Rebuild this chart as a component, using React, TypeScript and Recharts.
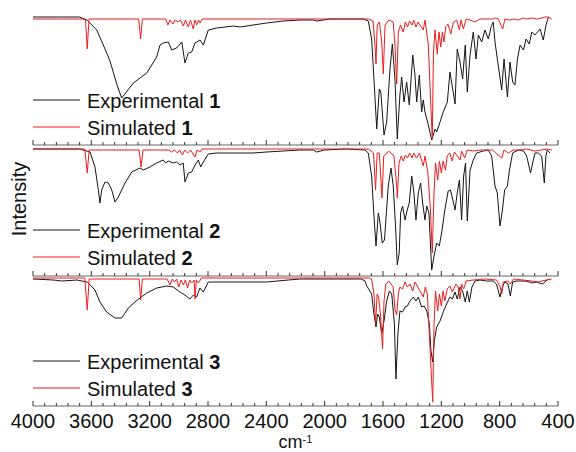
import { Legend, Line, LineChart, XAxis, YAxis } from "recharts";

// wavenumber (cm-1), intensity (a.u.) pairs
const EXP_1: [number, number][] = [
  [4000, 128], [3800, 128], [3680, 128], [3630, 125], [3563, 115], [3518, 100], [3472, 84], [3424, 60], [3392, 47],
  [3312, 62], [3220, 72], [3152, 88], [3129, 100], [3107, 102], [3072, 103], [3049, 95], [3015, 97], [2980, 103],
  [2958, 82], [2935, 92], [2912, 93], [2889, 102], [2855, 105], [2832, 100], [2798, 115], [2740, 117], [2626, 119],
  [2580, 118], [2491, 120], [2398, 122], [2285, 124], [2169, 125], [2078, 125], [2055, 124], [1963, 126], [1735, 126],
  [1701, 124], [1678, 106], [1662, 66], [1643, 16], [1625, 56], [1615, 53], [1593, 10], [1575, 23], [1552, 76],
  [1536, 101], [1518, 66], [1502, 6], [1484, 50], [1472, 68], [1456, 43], [1438, 63], [1420, 40], [1396, 90],
  [1381, 70], [1369, 43], [1351, 70], [1335, 33], [1324, 45], [1312, 33], [1289, 20], [1266, 5], [1243, 16],
  [1232, 13], [1209, 23], [1187, 33], [1159, 43], [1141, 73], [1122, 56], [1106, 41], [1091, 96], [1072, 83],
  [1054, 66], [1036, 100], [1022, 53], [1003, 90], [981, 113], [962, 86], [946, 110], [923, 103], [901, 115],
  [878, 106], [859, 118], [844, 123], [832, 103], [816, 86], [786, 55], [770, 86], [747, 48], [729, 83], [711, 63],
  [695, 60], [678, 86], [660, 100], [637, 95], [619, 106], [597, 101], [580, 113], [558, 110], [523, 116],
  [501, 105], [482, 120], [466, 128],
];

const SIM_1: [number, number][] = [
  [4000, 126], [3660, 126], [3640, 125], [3628, 96], [3616, 126], [3275, 126], [3262, 106], [3250, 126], [3090, 126],
  [3075, 120], [3061, 125], [3040, 121], [3025, 125], [3005, 123], [2990, 125], [2969, 119], [2955, 125], [2935, 118],
  [2920, 125], [2901, 116], [2890, 125], [2878, 120], [2865, 125], [2855, 122], [2840, 126], [1700, 126], [1668, 124],
  [1655, 100], [1648, 81], [1640, 120], [1625, 123], [1609, 103], [1598, 71], [1586, 120], [1560, 125], [1530, 123],
  [1518, 100], [1506, 61], [1495, 113], [1480, 120], [1461, 113], [1447, 123], [1432, 118], [1418, 124], [1400, 120],
  [1390, 125], [1374, 118], [1360, 123], [1324, 115], [1312, 125], [1289, 100], [1275, 50], [1262, 6], [1254, 93],
  [1243, 115], [1228, 91], [1216, 113], [1204, 98], [1193, 113], [1182, 103], [1170, 118], [1155, 121], [1135, 111],
  [1117, 123], [1094, 125], [1076, 115], [1065, 125], [1049, 116], [1030, 126], [1003, 125], [969, 123], [935, 126],
  [850, 126], [830, 127], [810, 126], [779, 116], [764, 126], [730, 125], [707, 126], [672, 125], [638, 127],
  [615, 126], [580, 127], [546, 126], [512, 127], [490, 128], [466, 128], [443, 126],
];

const EXP_2: [number, number][] = [
  [4000, 127], [3680, 127], [3609, 124], [3575, 109], [3552, 86], [3541, 73], [3529, 86], [3506, 94], [3483, 93],
  [3460, 86], [3438, 74], [3415, 79], [3369, 93], [3323, 104], [3266, 108], [3243, 106], [3198, 109], [3152, 113],
  [3107, 116], [3090, 113], [3072, 115], [3038, 113], [3015, 114], [2992, 111], [2970, 113], [2958, 94], [2945, 99],
  [2935, 103], [2912, 104], [2889, 111], [2866, 116], [2850, 109], [2832, 114], [2798, 122], [2740, 123], [2626, 123],
  [2491, 123], [2398, 124], [2285, 125], [2169, 126], [2078, 126], [2055, 124], [2000, 126], [1850, 127], [1723, 126],
  [1701, 123], [1678, 100], [1662, 60], [1648, 30], [1632, 63], [1620, 53], [1605, 33], [1590, 36], [1564, 90],
  [1545, 108], [1530, 90], [1514, 50], [1502, 11], [1489, 23], [1479, 63], [1466, 70], [1449, 56], [1434, 66],
  [1420, 73], [1403, 100], [1388, 83], [1374, 56], [1358, 83], [1342, 93], [1328, 73], [1312, 56], [1300, 70],
  [1285, 63], [1266, 6], [1250, 20], [1232, 33], [1214, 30], [1198, 43], [1176, 66], [1153, 85], [1138, 86],
  [1124, 78], [1106, 66], [1091, 83], [1076, 96], [1061, 56], [1047, 100], [1034, 113], [1022, 55], [1003, 106],
  [981, 116], [958, 123], [912, 125], [878, 126], [855, 120], [832, 90], [816, 83], [798, 50], [781, 66], [766, 86],
  [747, 90], [733, 106], [711, 123], [672, 126], [637, 125], [615, 120], [588, 103], [574, 113], [558, 123],
  [535, 123], [512, 120], [494, 93], [483, 120], [474, 126], [455, 123],
];

const SIM_2: [number, number][] = [
  [4000, 127], [3645, 127], [3628, 103], [3615, 126], [3272, 126], [3259, 109], [3246, 126], [3070, 126], [3050, 124],
  [3030, 126], [3010, 123], [2995, 126], [2975, 121], [2960, 126], [2940, 123], [2920, 126], [2889, 119], [2875, 126],
  [2855, 124], [2840, 127], [1700, 127], [1665, 123], [1651, 86], [1640, 123], [1625, 123], [1607, 78], [1595, 120],
  [1560, 125], [1525, 120], [1506, 90], [1502, 78], [1490, 113], [1475, 120], [1461, 115], [1447, 121], [1432, 118],
  [1418, 123], [1400, 118], [1390, 123], [1370, 118], [1350, 123], [1324, 110], [1312, 120], [1292, 103], [1275, 66],
  [1262, 23], [1250, 83], [1240, 113], [1225, 96], [1213, 115], [1200, 103], [1188, 115], [1172, 106], [1160, 120],
  [1142, 123], [1126, 115], [1110, 124], [1072, 116], [1061, 125], [1040, 118], [1023, 126], [980, 125], [935, 126],
  [850, 126], [786, 118], [770, 126], [740, 123], [707, 126], [660, 126], [615, 127], [560, 125], [512, 126],
  [475, 127], [443, 126],
];

const EXP_3: [number, number][] = [
  [4000, 127], [3860, 126], [3800, 125], [3700, 126], [3628, 124], [3575, 116], [3541, 104], [3495, 94], [3438, 88],
  [3392, 88], [3346, 98], [3301, 104], [3266, 108], [3220, 113], [3152, 118], [3083, 120], [3038, 119], [2992, 114],
  [2958, 111], [2924, 107], [2900, 111], [2878, 109], [2855, 118], [2832, 114], [2798, 124], [2600, 124], [2398, 124],
  [2250, 126], [2169, 127], [1750, 127], [1723, 125], [1711, 120], [1678, 112], [1662, 92], [1648, 79], [1637, 92],
  [1625, 89], [1609, 72], [1593, 85], [1575, 105], [1556, 115], [1540, 112], [1522, 82], [1511, 27], [1498, 72],
  [1484, 95], [1466, 94], [1449, 99], [1433, 100], [1415, 105], [1392, 109], [1374, 105], [1358, 109], [1335, 99],
  [1317, 100], [1300, 95], [1282, 82], [1271, 55], [1259, 44], [1248, 65], [1232, 79], [1209, 85], [1187, 94],
  [1164, 102], [1141, 109], [1124, 107], [1106, 114], [1091, 107], [1072, 119], [1054, 115], [1036, 104],
  [1022, 115], [1008, 104], [990, 119], [969, 125], [935, 126], [890, 125], [844, 125], [822, 122], [798, 109],
  [781, 119], [766, 124], [743, 122], [727, 110], [711, 124], [688, 125], [620, 125], [573, 123], [550, 124],
  [505, 122], [483, 125], [466, 127],
];

const SIM_3: [number, number][] = [
  [4000, 128], [3645, 128], [3628, 96], [3615, 127], [3272, 127], [3262, 106], [3250, 127], [3080, 127], [3061, 121],
  [3045, 127], [3030, 124], [3015, 127], [3000, 119], [2985, 126], [2969, 121], [2955, 126], [2940, 118], [2925, 126],
  [2912, 123], [2895, 126], [2889, 107], [2880, 126], [2866, 123], [2845, 128], [1700, 128], [1678, 127], [1662, 112],
  [1651, 82], [1640, 112], [1630, 109], [1618, 92], [1603, 57], [1593, 105], [1580, 122], [1560, 125], [1530, 119],
  [1518, 96], [1506, 91], [1495, 112], [1484, 119], [1466, 117], [1449, 124], [1433, 119], [1415, 122], [1396, 115],
  [1380, 124], [1324, 109], [1310, 119], [1296, 112], [1280, 65], [1259, 4], [1250, 82], [1240, 115], [1225, 95],
  [1213, 112], [1200, 100], [1188, 115], [1176, 105], [1160, 117], [1142, 120], [1124, 114], [1100, 122], [1085, 119],
  [1072, 107], [1061, 122], [1047, 117], [1030, 125], [980, 126], [900, 127], [822, 126], [798, 120], [786, 112],
  [775, 124], [745, 125], [727, 122], [705, 127], [640, 126], [580, 125], [535, 124], [510, 125], [443, 127],
];

const MAJOR_TICKS = [4000, 3600, 3200, 2800, 2400, 2000, 1600, 1200, 800, 400];
const MINOR_STEP = 80;
const ALL_TICKS = MAJOR_TICKS.flatMap((t, i) =>
  i === MAJOR_TICKS.length - 1 ? [t] : [t, t - MINOR_STEP, t - 2 * MINOR_STEP, t - 3 * MINOR_STEP, t - 4 * MINOR_STEP],
);

const FONT = "'Liberation Sans', Arial, sans-serif";
const FRAME = "#666666";
const BLACK = "#151515";
const RED = "#ee1c1c";

const toPoints = (arr: [number, number][]) => arr.map(([x, y]) => ({ x, y }));

const AxisTick = (props: any) => {
  const { x, y, payload, showLabel } = props;
  const major = MAJOR_TICKS.includes(payload.value);
  return (
    <g>
      <line x1={x} x2={x} y1={y} y2={y - (major ? 5 : 3)} stroke="#333" strokeWidth={1} />
      {showLabel && major && (
        <text x={x} y={y + 22} textAnchor="middle" fontSize={20} fontFamily={FONT} fill="#111">
          {payload.value}
        </text>
      )}
    </g>
  );
};

const XTitle = (props: any) => {
  const { x, y, width } = props.viewBox;
  return (
    <text x={x + width / 2} y={y + 42} textAnchor="middle" fontSize={18} fontFamily={FONT} fill="#111">
      cm
      <tspan dy={-5} fontSize={11}>
        -1
      </tspan>
    </text>
  );
};

const LegendBox = (props: any) => {
  const items = props.payload ?? [];
  return (
    <svg width={260} height={60} style={{ display: "block" }}>
      {items.map((item: any, i: number) => {
        const label = String(item.value);
        const cut = label.lastIndexOf(" ");
        const cy = 15 + i * 27;
        return (
          <g key={label}>
            <line x1={0} x2={47} y1={cy} y2={cy} stroke={item.color} strokeWidth={1} />
            <text x={54} y={cy + 8} fontSize={20} fontFamily={FONT} fill="#111">
              {label.slice(0, cut + 1)}
              <tspan fontWeight="bold">{label.slice(cut + 1)}</tspan>
            </text>
          </g>
        );
      })}
    </svg>
  );
};

interface PanelProps {
  top: number;
  height: number;
  idx: number;
  exp: [number, number][];
  sim: [number, number][];
  bottomAxis?: boolean;
}

function Panel({ top, height, idx, exp, sim, bottomAxis }: PanelProps) {
  const xh = bottomAxis ? 46 : 4;
  return (
    <div style={{ position: "absolute", left: 0, top: top - 15 }}>
      <LineChart width={576} height={15 + height + xh} margin={{ top: 15, right: 18, left: 33, bottom: 0 }}>
        <XAxis
          xAxisId="b"
          type="number"
          dataKey="x"
          domain={[400, 4000]}
          reversed
          allowDataOverflow
          ticks={ALL_TICKS}
          interval={0}
          tickSize={0}
          tickMargin={0}
          tickLine={false}
          tick={(p: any) => <AxisTick {...p} showLabel={bottomAxis} />}
          axisLine={{ stroke: FRAME }}
          height={xh}
          label={bottomAxis ? XTitle : undefined}
        />
        <XAxis
          xAxisId="t"
          orientation="top"
          type="number"
          dataKey="x"
          domain={[400, 4000]}
          reversed
          tick={false}
          tickLine={false}
          axisLine={{ stroke: FRAME }}
          height={0}
        />
        <YAxis
          yAxisId="l"
          type="number"
          domain={[0, height]}
          allowDataOverflow
          width={0}
          tick={false}
          tickLine={false}
          axisLine={{ stroke: FRAME }}
        />
        <YAxis
          yAxisId="r"
          orientation="right"
          type="number"
          domain={[0, height]}
          width={0}
          tick={false}
          tickLine={false}
          axisLine={{ stroke: FRAME }}
        />
        <Legend
          layout="vertical"
          align="center"
          verticalAlign="middle"
          content={LegendBox}
          wrapperStyle={{ left: 33, top: 85, width: 260 }}
        />
        <Line
          xAxisId="b"
          yAxisId="l"
          data={toPoints(exp)}
          dataKey="y"
          name={`Experimental ${idx}`}
          type="linear"
          stroke={BLACK}
          strokeWidth={1}
          dot={false}
          isAnimationActive={false}
        />
        <Line
          xAxisId="b"
          yAxisId="l"
          data={toPoints(sim)}
          dataKey="y"
          name={`Simulated ${idx}`}
          type="linear"
          stroke={RED}
          strokeWidth={1}
          dot={false}
          isAnimationActive={false}
        />
      </LineChart>
    </div>
  );
}

export default function App() {
  return (
    <div
      style={{
        position: "absolute",
        left: 0,
        top: 0,
        width: 576,
        height: 452,
        overflow: "hidden",
        background: "#fff",
        fontFamily: FONT,
      }}
    >
      <Panel top={15} height={130} idx={1} exp={EXP_1} sim={SIM_1} />
      <Panel top={145} height={131} idx={2} exp={EXP_2} sim={SIM_2} />
      <Panel top={276} height={130} idx={3} exp={EXP_3} sim={SIM_3} bottomAxis />
      <svg width={32} height={452} style={{ position: "absolute", left: 0, top: 0 }}>
        <text transform="translate(25.5, 199) rotate(-90)" textAnchor="middle" fontSize={20} fontFamily={FONT} fill="#111">
          Intensity
        </text>
      </svg>
    </div>
  );
}
